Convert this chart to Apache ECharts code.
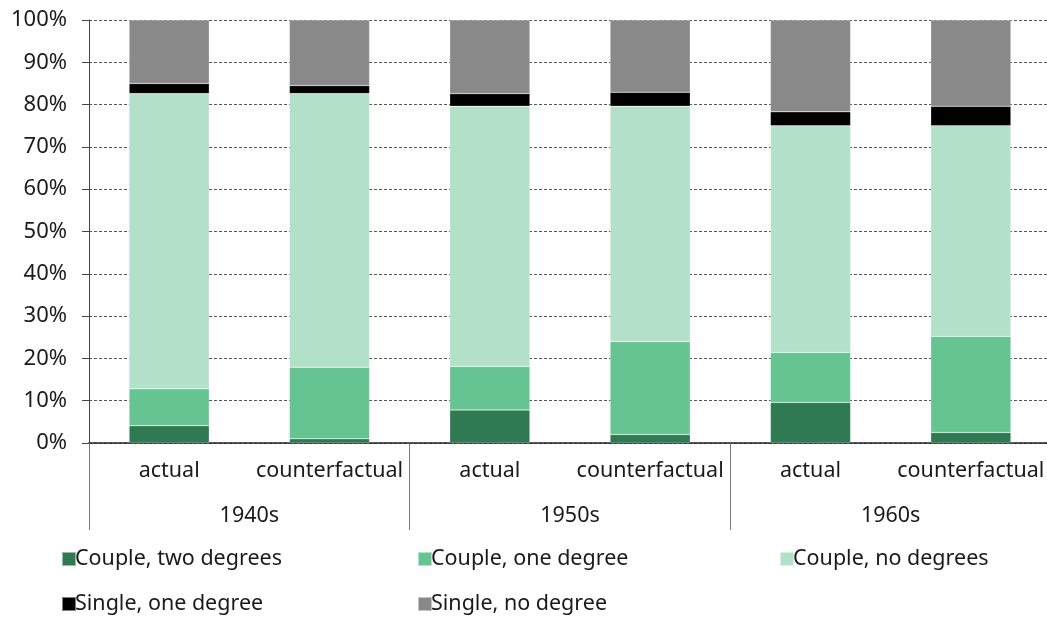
<!DOCTYPE html>
<html>
<head>
<meta charset="utf-8">
<script src="https://cdn.jsdelivr.net/npm/echarts@6/dist/echarts.min.js"></script>
<style>
  html, body { margin:0; padding:0; background:#fff; }
  #chart { width:1047px; height:617px; }
</style>
</head>
<body>
<div id="chart"></div>
<script>
// ---- 資料 ----
const scenarios = ['actual', 'counterfactual', 'actual', 'counterfactual', 'actual', 'counterfactual'];
const decades   = ['1940s', '1950s', '1960s'];
const yTicks    = [0, 10, 20, 30, 40, 50, 60, 70, 80, 90, 100];

const coupleTwo   = [4.1, 1.0, 7.8, 2.0, 9.6, 2.5];
const coupleOne   = [8.7, 16.9, 10.3, 22.0, 11.8, 22.7];
const coupleNone  = [69.8, 64.7, 61.5, 55.6, 53.6, 49.8];
const singleOne   = [2.4, 1.9, 3.0, 3.3, 3.3, 4.6];
const singleNone  = [15.0, 15.5, 17.4, 17.1, 21.7, 20.4];

const FONT = '"Noto Sans", sans-serif';
const TXT  = '#1a1a1a';

const seriesDefs = [
  { name:'Couple, two degrees', data:coupleTwo,  color:'#2f7a52' },
  { name:'Couple, one degree',  data:coupleOne,  color:'#66c392' },
  { name:'Couple, no degrees',  data:coupleNone, color:'#b3e0c8' },
  { name:'Single, one degree',  data:singleOne,  color:'#000000' },
  { name:'Single, no degree',   data:singleNone, color:'#898989' }
];

// 圖例位置（每項一個）
const legendPos = [[56, 543], [412, 543], [774, 543], [56, 588], [412, 588]];

function legendItem(name, pos){
  return {
    data:[name], left:pos[0], top:pos[1],
    itemWidth:14, itemHeight:14, icon:'rect',
    textStyle:{ fontFamily:FONT, fontSize:21.5, color:TXT, padding:[0,0,0,-6] },
    selectedMode:false
  };
}

const chart = echarts.init(document.getElementById('chart'), null, { renderer:'canvas' });
chart.setOption({
  animation:false,
  backgroundColor:'#fff',
  grid:{ left:89, width:962, top:20, bottom:174, outerBoundsMode:'none', containLabel:false },
  legend: seriesDefs.map((s, i) => legendItem(s.name, legendPos[i])),
  xAxis:[
    {
      type:'category', data:scenarios, position:'bottom',
      axisLine:{ show:true, lineStyle:{ color:'#222', width:1.5 } },
      axisTick:{ show:false },
      axisLabel:{ fontFamily:FONT, fontSize:21.5, color:TXT, margin:17, interval:0 }
    },
    {
      type:'category', data:decades, position:'bottom',
      axisLine:{ show:false },
      axisTick:{ show:true, length:87, interval:0, lineStyle:{ color:'#777' } },
      axisLabel:{ fontFamily:FONT, fontSize:21.5, color:TXT, margin:62, interval:0 }
    }
  ],
  yAxis:{
    type:'value', min:0, max:100, interval:10,
    axisLine:{ show:true, lineStyle:{ color:'#444' } },
    axisTick:{ show:true, length:7, lineStyle:{ color:'#444' } },
    axisLabel:{ fontFamily:FONT, fontSize:22, color:TXT, margin:22,
      formatter: v => yTicks.includes(v) ? v + '%' : '' },
    splitLine:{ show:true, lineStyle:{ color:'#555', type:[3,2], width:1 } }
  },
  series: seriesDefs.map(s => ({
    name:s.name, type:'bar', stack:'all', xAxisIndex:0,
    barWidth:'50%', data:s.data,
    itemStyle:{ color:s.color, borderColor:'rgba(255,255,255,0.5)', borderWidth:0.5 }
  }))
});
</script>
</body>
</html>
